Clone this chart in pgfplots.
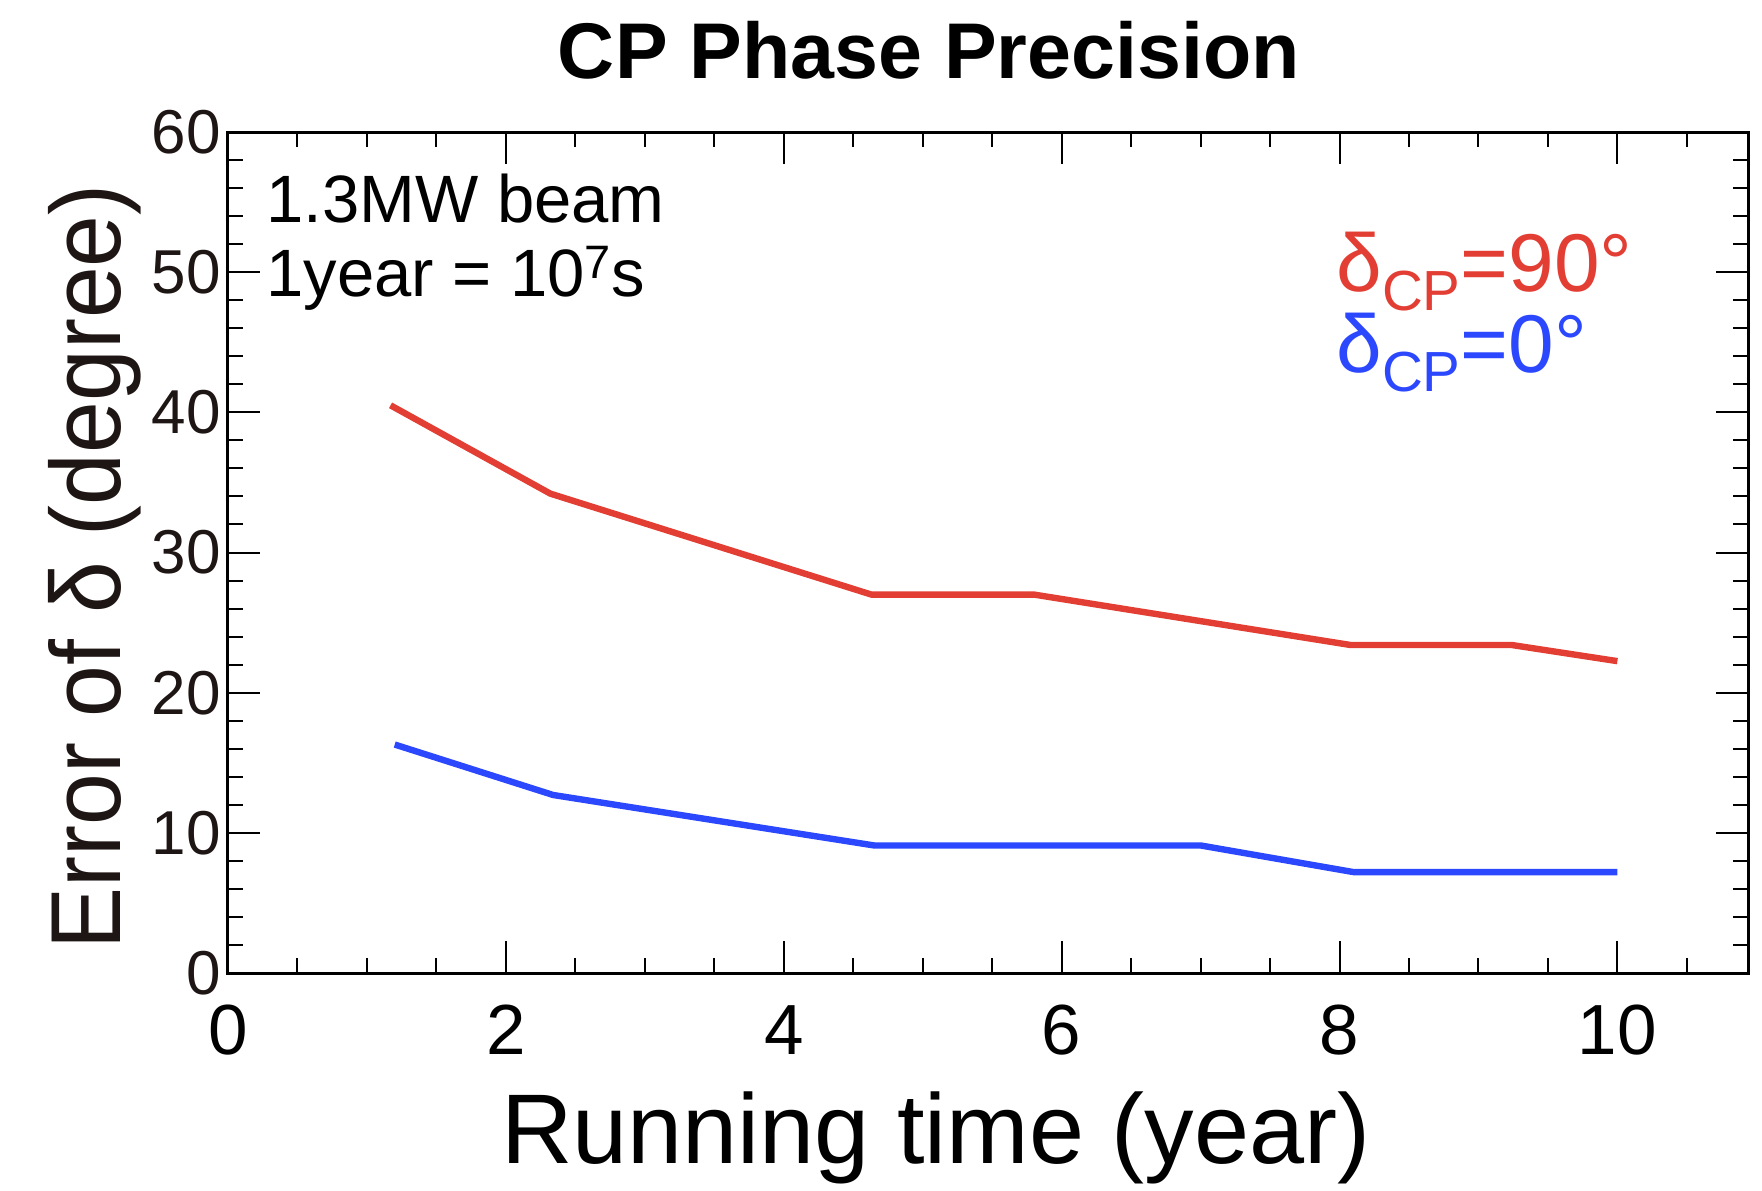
\documentclass[border=0pt]{standalone}
\usepackage{fontspec}
\setmainfont{Liberation Sans}
\usepackage{graphicx}
\usepackage{pgfplots}
\pgfplotsset{compat=1.18}
\definecolor{cred}{RGB}{226,62,52}
\definecolor{cblue}{RGB}{44,72,255}
\definecolor{cdark}{RGB}{30,22,20}
\begin{document}
\begin{tikzpicture}
\path[use as bounding box] (-114pt,-108.5pt) rectangle (767pt,486.5pt);
\begin{axis}[
  at={(0pt,0pt)}, anchor=south west,
  scale only axis, width=760pt, height=420.5pt,
  xmin=0, xmax=10.94, ymin=0, ymax=60,
  xtick={0,2,...,10}, ytick={0,10,...,60},
  minor xtick={0.5,1,1.5,2.5,3,3.5,4.5,5,5.5,6.5,7,7.5,8.5,9,9.5,10.5},
  minor ytick={2,4,6,8,12,14,16,18,22,24,26,28,32,34,36,38,42,44,46,48,52,54,56,58},
  tick align=inside, tick pos=both,
  major tick length=16pt, minor tick length=7.5pt,
  tick style={black, line width=1pt},
  axis line style={line width=1.5pt},
  /pgf/number format/assume math mode=true,
  xticklabel style={font=\fontsize{35.5}{35.5}\selectfont, inner sep=0pt, anchor=north, yshift=-16pt},
  yticklabel style={font=\fontsize{31}{31}\selectfont, text=cdark, inner sep=0pt, anchor=east, xshift=-3.5pt},
]
\addplot[cred, line width=3.2pt, line join=round] coordinates {
(1.17,40.5) (2.32,34.2) (4.63,27.0) (5.8,27.0) (8.08,23.4) (9.24,23.4) (10,22.25)};
\addplot[cblue, line width=3.2pt, line join=round] coordinates {
(1.2,16.3) (2.34,12.7) (4.65,9.1) (7.0,9.1) (8.1,7.2) (10,7.2)};
\end{axis}
\node[anchor=base, font=\bfseries\fontsize{39.5}{39.5}\selectfont] at (350.5pt,447pt) {CP Phase Precision};
\node[anchor=base, font=\fontsize{49.5}{49.5}\selectfont] at (354pt,-95pt) {Running time (year)};
\node[anchor=base, rotate=90, text=cdark, font=\fontsize{46.5}{46.5}\selectfont] at (-53.5pt,203pt) {\scalebox{1}[1.07]{Error of δ (degree)}};
\node[anchor=base west, inner sep=0pt, font=\fontsize{33.5}{33.5}\selectfont] at (19pt,375pt) {1.3MW beam};
\node[anchor=base west, inner sep=0pt, font=\fontsize{33.5}{33.5}\selectfont] at (19pt,338pt) {1year = 10\textsuperscript{7}s};
\node[anchor=base west, inner sep=0pt, text=cred, font=\fontsize{41}{41}\selectfont] at (554pt,340.5pt) {δ\raisebox{-0.22em}{\scalebox{0.69}{CP}}=90°};
\node[anchor=base west, inner sep=0pt, text=cblue, font=\fontsize{41}{41}\selectfont] at (554pt,300pt) {δ\raisebox{-0.22em}{\scalebox{0.69}{CP}}=0°};
\end{tikzpicture}
\end{document}
